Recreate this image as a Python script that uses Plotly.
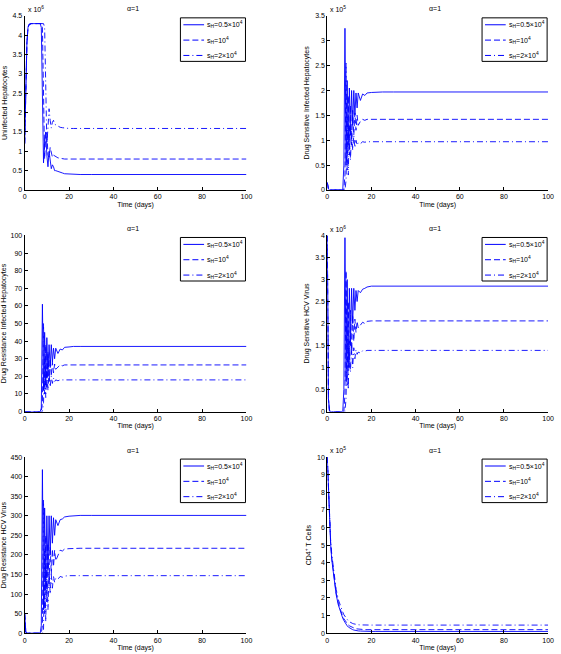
import plotly.graph_objects as go

# ---------------- data ----------------
days = [0, 0.5, 1, 1.5, 2, 3, 4, 5, 6, 7, 7.5, 8, 8.5, 9, 9.5, 10, 10.5, 11, 11.5,
        12, 12.5, 13, 13.5, 14, 15, 16, 17, 18, 20, 22, 25, 30, 100]

series_names = ["s<sub>H</sub>=0.5×10<sup>4</sup>", "s<sub>H</sub>=10<sup>4</sup>",
                "s<sub>H</sub>=2×10<sup>4</sup>"]

# Panel 1: Uninfected Hepatocytes (x 10^6)
uninf_a = [1.2, 2.8, 3.8, 4.2, 4.28, 4.3, 4.3, 4.3, 4.3, 4.3, 4.2, 2.0, 0.7, 1.3, 1.5, 0.9, 0.6, 1.0, 0.8,
           0.55, 0.65, 0.6, 0.5, 0.5, 0.48, 0.45, 0.44, 0.42, 0.41, 0.40, 0.40, 0.40, 0.40]
uninf_b = [1.2, 2.8, 3.8, 4.2, 4.28, 4.3, 4.3, 4.3, 4.3, 4.3, 4.3, 4.2, 2.5, 0.8, 1.4, 1.5, 0.9, 0.85, 1.1,
           0.95, 0.85, 0.9, 0.88, 0.85, 0.83, 0.82, 0.81, 0.80, 0.80, 0.80, 0.80, 0.80, 0.80]
uninf_c = [1.2, 2.8, 3.8, 4.2, 4.28, 4.3, 4.3, 4.3, 4.3, 4.3, 4.3, 4.3, 4.3, 4.2, 2.0, 1.2, 1.6, 2.1, 1.8,
           1.6, 1.75, 1.8, 1.7, 1.68, 1.65, 1.62, 1.61, 1.60, 1.59, 1.59, 1.59, 1.59, 1.59]

# Panel 2: Drug Sensitive Infected Hepatocytes (x 10^5)
sens_inf_a = [0.15, 0.02, 0, 0, 0, 0, 0, 0, 0, 0, 0.5, 3.25, 0.5, 2.2, 0.9, 2.05, 1.1, 2.0, 1.3,
              2.0, 1.5, 1.95, 1.65, 1.95, 1.8, 1.93, 1.9, 1.95, 1.96, 1.97, 1.97, 1.97, 1.97]
sens_inf_b = [0.15, 0.02, 0, 0, 0, 0, 0, 0, 0, 0, 0, 0.3, 2.55, 0.4, 1.9, 0.7, 1.7, 0.9, 1.6,
              1.1, 1.55, 1.2, 1.5, 1.3, 1.38, 1.42, 1.4, 1.42, 1.42, 1.42, 1.42, 1.42, 1.42]
sens_inf_c = [0.15, 0.02, 0, 0, 0, 0, 0, 0, 0, 0, 0, 0, 0.2, 1.5, 0.3, 1.3, 0.6, 1.2, 0.8,
              1.1, 0.85, 1.0, 0.9, 0.95, 0.93, 0.97, 0.96, 0.97, 0.97, 0.97, 0.97, 0.97, 0.97]

# Panel 3: Drug Resistance Infected Hepatocytes
res_inf_a = [0, 0, 0, 0, 0, 0, 0, 0, 0, 0, 2, 61, 12, 45, 15, 42, 20, 38, 25,
             38, 28, 36, 30, 36, 33, 35.5, 35, 36.5, 36.7, 37, 37, 37, 37]
res_inf_b = [0, 0, 0, 0, 0, 0, 0, 0, 0, 0, 0, 5, 50, 10, 38, 13, 34, 17, 30,
             20, 28, 22, 27, 24, 25.5, 26.5, 26, 26.5, 26.5, 26.5, 26.5, 26.5, 26.5]
res_inf_c = [0, 0, 0, 0, 0, 0, 0, 0, 0, 0, 0, 0, 5, 30, 8, 25, 12, 22, 14,
             20, 16, 19, 17, 18, 17.5, 18, 18, 18, 18, 18, 18, 18, 18]

# Panel 4: Drug Sensitive HCV Virus (x 10^6)
sens_vir_a = [4.0, 0.3, 0.01, 0, 0, 0, 0, 0, 0, 0, 0.5, 3.95, 0.7, 3.0, 1.0, 2.8, 1.5, 2.8, 2.0,
              2.8, 2.3, 2.75, 2.5, 2.75, 2.7, 2.78, 2.8, 2.83, 2.85, 2.85, 2.85, 2.85, 2.85]
sens_vir_b = [4.0, 0.3, 0.01, 0, 0, 0, 0, 0, 0, 0, 0, 0.4, 3.2, 0.6, 2.5, 1.0, 2.3, 1.3, 2.2,
              1.6, 2.1, 1.8, 2.05, 1.9, 1.98, 2.03, 2.0, 2.05, 2.06, 2.06, 2.06, 2.06, 2.06]
sens_vir_c = [4.0, 0.3, 0.01, 0, 0, 0, 0, 0, 0, 0, 0, 0, 0.3, 2.0, 0.5, 1.6, 0.9, 1.55, 1.0,
              1.45, 1.2, 1.4, 1.3, 1.35, 1.33, 1.38, 1.37, 1.39, 1.39, 1.39, 1.39, 1.39, 1.39]

# Panel 5: Drug Resistance HCV Virus
res_vir_a = [50, 3, 0, 0, 0, 0, 0, 0, 0, 0, 20, 418, 60, 320, 110, 300, 160, 300, 200,
             300, 230, 295, 250, 290, 275, 290, 292, 297, 299, 300, 301, 301, 301]
res_vir_b = [50, 3, 0, 0, 0, 0, 0, 0, 0, 0, 0, 20, 340, 50, 250, 80, 230, 120, 220,
             150, 215, 170, 212, 185, 200, 212, 210, 215, 216, 217, 217, 217, 217]
res_vir_c = [50, 3, 0, 0, 0, 0, 0, 0, 0, 0, 0, 0, 10, 210, 30, 170, 60, 155, 100,
             150, 115, 145, 130, 140, 138, 145, 143, 146, 147, 147, 147, 147, 147]

# Panel 6: CD4+ T Cells (x 10^5)
cd4_a = [10, 8.0, 6.3, 5.1, 4.2, 3.0, 2.2, 1.6, 1.15, 0.85, 0.72, 0.6, 0.5, 0.42, 0.35, 0.3, 0.26, 0.22, 0.2,
         0.18, 0.16, 0.15, 0.14, 0.13, 0.12, 0.11, 0.1, 0.1, 0.1, 0.1, 0.1, 0.1, 0.1]
cd4_b = [10, 8.0, 6.4, 5.2, 4.3, 3.1, 2.3, 1.7, 1.25, 0.95, 0.82, 0.72, 0.62, 0.54, 0.47, 0.42, 0.38, 0.34, 0.31,
         0.29, 0.27, 0.25, 0.24, 0.23, 0.22, 0.21, 0.2, 0.2, 0.2, 0.2, 0.2, 0.2, 0.2]
cd4_c = [10, 8.1, 6.5, 5.3, 4.5, 3.3, 2.5, 1.9, 1.5, 1.2, 1.05, 0.95, 0.85, 0.78, 0.7, 0.65, 0.6, 0.57, 0.55,
         0.53, 0.51, 0.5, 0.49, 0.48, 0.47, 0.46, 0.46, 0.46, 0.46, 0.46, 0.46, 0.46, 0.46]

panel_series = [
    [uninf_a, uninf_b, uninf_c],
    [sens_inf_a, sens_inf_b, sens_inf_c],
    [res_inf_a, res_inf_b, res_inf_c],
    [sens_vir_a, sens_vir_b, sens_vir_c],
    [res_vir_a, res_vir_b, res_vir_c],
    [cd4_a, cd4_b, cd4_c],
]
y_titles = ["Uninfected Hepatocytes", "Drug Sensitive Infected Hepatocytes",
            "Drug Resistance Infected Hepatocytes", "Drug Sensitive HCV Virus",
            "Drug Resistance HCV Virus", "CD4<sup>+</sup> T Cells"]
y_ranges = [[0, 4.5], [0, 3.5], [0, 100], [0, 4], [0, 450], [0, 10]]
y_dticks = [0.5, 0.5, 10, 0.5, 50, 1]
exponents = ["6", "5", None, "6", None, "5"]
x_ticks = [0, 20, 40, 60, 80, 100]

# ---------------- layout geometry ----------------
W, H = 561, 654
col_px = [(23, 248), (330, 554)]
row_px = [(12, 188), (234, 412), (458, 636)]
legend_box = [(181, 247), (487, 553)]

FONT = "Liberation Sans, Arial, Helvetica, sans-serif"
BLUE = "#0000ff"
dash_styles = ["solid", "6px,3px", "6px,3px,1px,3px"]


def px(x):
    return x / W


def py(y):
    return 1 - y / H


fig = go.Figure()
layout = dict(
    width=W, height=H,
    margin=dict(l=0, r=0, t=0, b=0),
    paper_bgcolor="white", plot_bgcolor="white",
    font=dict(family=FONT, size=7, color="black"),
    showlegend=False,
)
annotations = []
shapes = []

for i in range(6):
    r, c = divmod(i, 2)
    x0, x1 = col_px[c]
    yt, yb = row_px[r]
    xa = "x" if i == 0 else f"x{i+1}"
    ya = "y" if i == 0 else f"y{i+1}"
    for k in range(3):
        fig.add_trace(go.Scatter(
            x=days, y=panel_series[i][k], mode="lines",
            name=series_names[k],
            line=dict(color=BLUE, width=0.9, dash=dash_styles[k]),
            xaxis=xa, yaxis=ya,
        ))
    axis_common = dict(
        showgrid=False, zeroline=False, showline=True, linecolor="black", linewidth=1,
        ticks="inside", ticklen=3, tickcolor="black", tickwidth=1,
        tickfont=dict(family=FONT, size=7, color="black"),
    )
    layout["xaxis" if i == 0 else f"xaxis{i+1}"] = dict(
        domain=[px(x0), px(x1)], range=[0, 100], tickvals=x_ticks, anchor=ya,
        title=dict(text="Time (days)", font=dict(size=7), standoff=2),
        **axis_common,
    )
    layout["yaxis" if i == 0 else f"yaxis{i+1}"] = dict(
        domain=[py(yb), py(yt)], range=y_ranges[i], dtick=y_dticks[i], tick0=0,
        anchor=xa,
        title=dict(text=y_titles[i], font=dict(size=7), standoff=4),
        **axis_common,
    )
    # legend box (drawn like the MATLAB legend)
    lx0, lx1 = legend_box[c]
    ly0 = yt + 2
    ly1 = ly0 + 44
    shapes.append(dict(type="rect", xref="paper", yref="paper",
                       x0=px(lx0), x1=px(lx1), y0=py(ly1), y1=py(ly0),
                       line=dict(color="black", width=1), fillcolor="white", layer="above"))
    for k in range(3):
        yy = ly0 + 7 + 15.5 * k
        shapes.append(dict(type="line", xref="paper", yref="paper",
                           x0=px(lx0 + 3), x1=px(lx0 + 24), y0=py(yy), y1=py(yy),
                           line=dict(color=BLUE, width=1, dash=dash_styles[k]), layer="above"))
        annotations.append(dict(
            text=series_names[k], x=px(lx0 + 25), y=py(yy), xref="paper", yref="paper",
            xanchor="left", yanchor="middle", showarrow=False,
            font=dict(family=FONT, size=7, color="black"),
        ))
    annotations.append(dict(
        text="α=1", x=px((x0 + x1) / 2 - 3), y=py(yt - 7), xref="paper", yref="paper",
        xanchor="center", yanchor="middle", showarrow=False,
        font=dict(family=FONT, size=7, color="black"),
    ))
    if exponents[i]:
        annotations.append(dict(
            text=f"x 10<sup>{exponents[i]}</sup>", x=px(x0 + 1), y=py(yt - 1),
            xref="paper", yref="paper", xanchor="left", yanchor="bottom", showarrow=False,
            font=dict(family=FONT, size=7, color="black"),
        ))

layout["annotations"] = annotations
layout["shapes"] = shapes
fig.update_layout(**layout)
fig.write_html("out.html",
               config={"displayModeBar": False},
               post_script="document.body.style.margin='0';document.body.style.padding='0';")
